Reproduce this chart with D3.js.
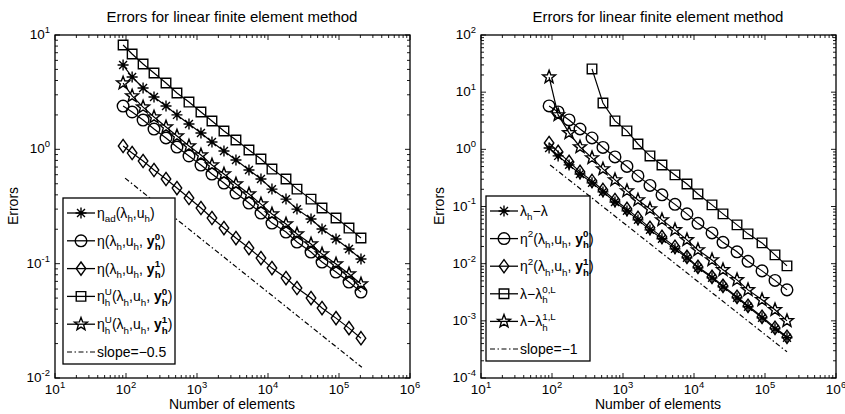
<!DOCTYPE html>
<html>
<head>
<meta charset="utf-8">
<script src="https://cdn.jsdelivr.net/npm/d3@7"></script>
<style>
body { margin: 0; background: #fff; }
svg { display: block; }
text { font-family: "Liberation Sans", Arial, Helvetica, sans-serif; fill: #000; white-space: pre; }
</style>
</head>
<body>
<svg id="chart" width="845" height="414"></svg>
<script>
// number of elements on each refinement level (shared by both panels)
const elements = [91, 122, 174, 248, 366, 522, 771, 1137, 1625, 2398, 3538, 5395, 7960, 11370, 17930, 25600, 40360, 57650, 90800, 138300, 204000]

// left panel: error estimators
const etaAd  = [5.46, 4.29, 3.44, 2.87, 2.39, 2.00, 1.665, 1.389, 1.158, 0.966, 0.806, 0.659, 0.550, 0.449, 0.367, 0.300, 0.2455, 0.2008, 0.1641, 0.1342, 0.1097]
const etaY0  = [2.39, 2.12, 1.804, 1.505, 1.256, 1.047, 0.874, 0.729, 0.608, 0.507, 0.4146, 0.339, 0.277, 0.2265, 0.189, 0.1545, 0.1263, 0.1033, 0.0844, 0.069, 0.0564]
const etaY1  = [1.069, 0.928, 0.790, 0.659, 0.550, 0.4585, 0.375, 0.3065, 0.2506, 0.2048, 0.1675, 0.1369, 0.1119, 0.0915, 0.0748, 0.0612, 0.0500, 0.0409, 0.0334, 0.0273, 0.0223]
const etaUY0 = [8.18, 6.82, 5.58, 4.65, 3.80, 3.11, 2.59, 2.12, 1.768, 1.446, 1.206, 0.986, 0.823, 0.672, 0.550, 0.449, 0.367, 0.3065, 0.2506, 0.2048, 0.1675]
const etaUY1 = [3.80, 2.93, 2.34, 1.917, 1.567, 1.307, 1.069, 0.891, 0.729, 0.608, 0.497, 0.406, 0.332, 0.2716, 0.2221, 0.1816, 0.1484, 0.1213, 0.0992, 0.0811, 0.0663]
const slopeHalfN = [97, 210000]
const slopeHalfE = [0.56, 0.0124]

// right panel: eigenvalue errors
const lamErr = [1.057, 0.767, 0.534, 0.371, 0.259, 0.180, 0.120, 0.0838, 0.0583, 0.0390, 0.0272, 0.01815, 0.01263, 0.00845, 0.00565, 0.00393, 0.00252, 0.00176, 0.001128, 0.000724, 0.000505]
const eta2Y0 = [5.74, 4.51, 3.27, 2.27, 1.58, 1.08, 0.736, 0.502, 0.343, 0.234, 0.160, 0.109, 0.0743, 0.0507, 0.0345, 0.0236, 0.0161, 0.0110, 0.00748, 0.00510, 0.00348]
const eta2Y1 = [1.29, 0.902, 0.603, 0.403, 0.280, 0.195, 0.130, 0.0908, 0.0632, 0.0423, 0.0294, 0.0197, 0.01315, 0.00879, 0.00588, 0.00409, 0.00263, 0.00183, 0.001175, 0.000755, 0.000525]
const lamL0  = [null, null, null, null, 25.5, 6.47, 3.14, 2.10, 1.24, 0.767, 0.533, 0.357, 0.248, 0.166, 0.1067, 0.0743, 0.0477, 0.0332, 0.0231, 0.01426, 0.00916]
const lamL1  = [18.4, 4.0, 1.94, 1.10, 0.708, 0.454, 0.292, 0.1875, 0.130, 0.0908, 0.0583, 0.039, 0.0261, 0.0174, 0.01164, 0.0078, 0.00521, 0.00348, 0.00233, 0.00156, 0.001]
const slopeOneN = [94, 204000]
const slopeOneE = [0.533, 0.000287]

const xDecades = [1, 2, 3, 4, 5, 6]
const yDecadesLeft = [-2, -1, 0, 1]
const yDecadesRight = [-4, -3, -2, -1, 0, 1, 2]

const svg = d3.select("#chart")

// marker shapes in the matlab style
const markers = {
    asterisk: r => `M${-r},0H${r}M0,${-r}V${r}M${-r * .72},${-r * .72}L${r * .72},${r * .72}M${-r * .72},${r * .72}L${r * .72},${-r * .72}`,
    circle: r => `M${r},0A${r},${r} 0 1,1 ${-r},0A${r},${r} 0 1,1 ${r},0Z`,
    diamond: r => `M0,${-r * 1.25}L${r * .9},0L0,${r * 1.25}L${-r * .9},0Z`,
    square: r => `M${-r * .85},${-r * .85}H${r * .85}V${r * .85}H${-r * .85}Z`,
    star: r => {
        let p = ""
        for (let i = 0; i < 10; i++) {
            const a = -Math.PI / 2 + i * Math.PI / 5
            const rr = i % 2 ? r * 0.42 : r
            p += (i ? "L" : "M") + (rr * Math.cos(a)).toFixed(2) + "," + (rr * Math.sin(a)).toFixed(2)
        }
        return p + "Z"
    }
}
const markerSize = { asterisk: 5.5, circle: 5.8, diamond: 5.3, square: 5.6, star: 6.8 }
const markerStroke = 1.4

// draws text pieces one after another; sub/sup pieces are stacked
function rich(g, x, y, tokens, fs) {
    let cx = x
    tokens.forEach(tk => {
        if (tk.t !== undefined) {
            const el = g.append("text").attr("x", cx).attr("y", y)
                .attr("font-size", fs)
                .attr("font-weight", tk.b ? "bold" : null)
                .text(tk.t)
            cx += el.node().getComputedTextLength()
        } else {
            let w = 0
            if (tk.sup !== undefined) {
                const el = g.append("text").attr("x", cx).attr("y", y - fs * 0.45)
                    .attr("font-size", fs * 0.7)
                    .attr("font-weight", tk.b ? "bold" : null)
                    .text(tk.sup)
                w = Math.max(w, el.node().getComputedTextLength())
            }
            if (tk.sub !== undefined) {
                const el = g.append("text").attr("x", cx).attr("y", y + fs * 0.32)
                    .attr("font-size", fs * 0.7)
                    .attr("font-weight", tk.b ? "bold" : null)
                    .text(tk.sub)
                w = Math.max(w, el.node().getComputedTextLength())
            }
            cx += w
        }
    })
    return cx - x
}

function panel({ left, right, top, bottom, yDomain, yDecades, series, slope, legend, legendBox }) {
    const x = d3.scaleLog().domain([10, 1e6]).range([left, right])
    const y = d3.scaleLog().domain(yDomain).range([bottom, top])
    const g = svg.append("g")

    // minor + major ticks, inside the box, on all four sides
    const ticksG = g.append("g").attr("stroke", "#000").attr("stroke-width", 0.9)
    const xt = [], yt = []
    for (let e = 1; e < 6; e++) for (let k = 1; k < 10; k++) xt.push({ v: k * Math.pow(10, e), major: k === 1 })
    xt.push({ v: 1e6, major: true })
    for (let e = yDecades[0]; e < yDecades[yDecades.length - 1]; e++)
        for (let k = 1; k < 10; k++) yt.push({ v: k * Math.pow(10, e), major: k === 1 })
    yt.push({ v: Math.pow(10, yDecades[yDecades.length - 1]), major: true })

    xt.forEach(t => {
        const len = t.major ? 5 : 3
        const px = x(t.v)
        ticksG.append("line").attr("x1", px).attr("x2", px).attr("y1", bottom).attr("y2", bottom - len)
        ticksG.append("line").attr("x1", px).attr("x2", px).attr("y1", top).attr("y2", top + len)
    })
    yt.forEach(t => {
        const len = t.major ? 5 : 3
        const py = y(t.v)
        ticksG.append("line").attr("y1", py).attr("y2", py).attr("x1", left).attr("x2", left + len)
        ticksG.append("line").attr("y1", py).attr("y2", py).attr("x1", right).attr("x2", right - len)
    })

    // tick labels
    xDecades.forEach(e => {
        const lg = g.append("g")
        const w = rich(lg, 0, 0, [{ t: "10" }, { sup: String(e) }], 13.5)
        lg.attr("transform", `translate(${x(Math.pow(10, e)) - w / 2},${bottom + 16})`)
    })
    yDecades.forEach(e => {
        const lg = g.append("g")
        const w = rich(lg, 0, 0, [{ t: "10" }, { sup: e < 0 ? "-" + (-e) : String(e) }], 13.5)
        lg.attr("transform", `translate(${left - 5 - w},${y(Math.pow(10, e)) + 4})`)
    })

    // data
    const line = d3.line().defined(d => d[1] != null).x(d => x(d[0])).y(d => y(d[1]))
    series.forEach(s => {
        const pts = elements.map((n, i) => [n, s.values[i]])
        g.append("path").attr("d", line(pts)).attr("fill", "none").attr("stroke", "#000").attr("stroke-width", 1.2)
        g.append("g").selectAll("path")
            .data(pts.filter(d => d[1] != null))
            .join("path")
            .attr("transform", d => `translate(${x(d[0])},${y(d[1])})`)
            .attr("d", markers[s.marker](markerSize[s.marker]))
            .attr("fill", "none").attr("stroke", "#000").attr("stroke-width", markerStroke)
    })
    g.append("path")
        .attr("d", d3.line().x(d => x(d[0])).y(d => y(d[1]))(slope.n.map((n, i) => [n, slope.e[i]])))
        .attr("fill", "none").attr("stroke", "#000").attr("stroke-width", 1.2)
        .attr("stroke-dasharray", "5,2.5,1.5,2.5")

    // box
    g.append("rect").attr("x", left).attr("y", top).attr("width", right - left).attr("height", bottom - top)
        .attr("fill", "none").attr("stroke", "#000").attr("stroke-width", 1.3)

    // legend
    const lb = legendBox
    const leg = g.append("g")
    leg.append("rect").attr("x", lb.x).attr("y", lb.y).attr("width", lb.w).attr("height", lb.h)
        .attr("fill", "#fff").attr("stroke", "#000").attr("stroke-width", 1.3)
    const firstRow = lb.y + 15, lastRow = lb.y + lb.h - 12
    const rowH = (lastRow - firstRow) / (legend.length - 1)
    legend.forEach((item, i) => {
        const ry = firstRow + i * rowH
        const l = leg.append("line").attr("x1", lb.x + 4).attr("x2", lb.x + 32).attr("y1", ry).attr("y2", ry)
            .attr("stroke", "#000").attr("stroke-width", 1.3)
        if (item.marker) {
            leg.append("path").attr("transform", `translate(${lb.x + 18},${ry})`)
                .attr("d", markers[item.marker](markerSize[item.marker]))
                .attr("fill", "none").attr("stroke", "#000").attr("stroke-width", markerStroke)
        } else {
            l.attr("stroke-dasharray", "5,2.5,1.5,2.5").attr("stroke-width", 1.2)
        }
        rich(leg, lb.x + 34, ry + 5, item.label, 14)
    })
}

const h = { sub: "h" }
const lamH = [{ t: "(λ" }, h, { t: ",u" }, h]

panel({
    left: 55, right: 410, top: 35, bottom: 378,
    yDomain: [1e-2, 10], yDecades: yDecadesLeft,
    series: [
        { values: etaAd, marker: "asterisk" },
        { values: etaY0, marker: "circle" },
        { values: etaY1, marker: "diamond" },
        { values: etaUY0, marker: "square" },
        { values: etaUY1, marker: "star" }
    ],
    slope: { n: slopeHalfN, e: slopeHalfE },
    legendBox: { x: 63, y: 198, w: 112, h: 166 },
    legend: [
        { marker: "asterisk", label: [{ t: "η" }, { sub: "ad" }, ...lamH, { t: ")" }] },
        { marker: "circle", label: [{ t: "η" }, ...lamH, { t: ", " }, { t: "y", b: true }, { sub: "h", sup: "0", b: true }, { t: ")" }] },
        { marker: "diamond", label: [{ t: "η" }, ...lamH, { t: ", " }, { t: "y", b: true }, { sub: "h", sup: "1", b: true }, { t: ")" }] },
        { marker: "square", label: [{ t: "η" }, { sub: "h", sup: "U" }, ...lamH, { t: ", " }, { t: "y", b: true }, { sub: "h", sup: "0", b: true }, { t: ")" }] },
        { marker: "star", label: [{ t: "η" }, { sub: "h", sup: "U" }, ...lamH, { t: ", " }, { t: "y", b: true }, { sub: "h", sup: "1", b: true }, { t: ")" }] },
        { marker: null, label: [{ t: "slope=−0.5" }] }
    ]
})

panel({
    left: 481, right: 836, top: 35, bottom: 378,
    yDomain: [1e-4, 100], yDecades: yDecadesRight,
    series: [
        { values: lamErr, marker: "asterisk" },
        { values: eta2Y0, marker: "circle" },
        { values: eta2Y1, marker: "diamond" },
        { values: lamL0, marker: "square" },
        { values: lamL1, marker: "star" }
    ],
    slope: { n: slopeOneN, e: slopeOneE },
    legendBox: { x: 486, y: 196, w: 104, h: 165 },
    legend: [
        { marker: "asterisk", label: [{ t: "λ" }, h, { t: "−λ" }] },
        { marker: "circle", label: [{ t: "η" }, { sup: "2" }, ...lamH, { t: ", " }, { t: "y", b: true }, { sub: "h", sup: "0", b: true }, { t: ")" }] },
        { marker: "diamond", label: [{ t: "η" }, { sup: "2" }, ...lamH, { t: ", " }, { t: "y", b: true }, { sub: "h", sup: "1", b: true }, { t: ")" }] },
        { marker: "square", label: [{ t: "λ−λ" }, { sub: "h", sup: "0,L" }] },
        { marker: "star", label: [{ t: "λ−λ" }, { sub: "h", sup: "1,L" }] },
        { marker: null, label: [{ t: "slope=−1" }] }
    ]
})

// titles and axis labels
const titles = ["Errors for linear finite element method", "Errors for linear finite element method"]
const centers = [232, 658]
const ylabCenters = [18, 444]
titles.forEach((t, i) => {
    svg.append("text").attr("x", centers[i]).attr("y", 22).attr("text-anchor", "middle")
        .attr("font-size", 15).text(t)
    svg.append("text").attr("x", centers[i]).attr("y", 409).attr("text-anchor", "middle")
        .attr("font-size", 14).text("Number of elements")
    svg.append("text").attr("transform", `translate(${ylabCenters[i]},206) rotate(-90)`)
        .attr("text-anchor", "middle").attr("font-size", 14).text("Errors")
})
</script>
</body>
</html>
